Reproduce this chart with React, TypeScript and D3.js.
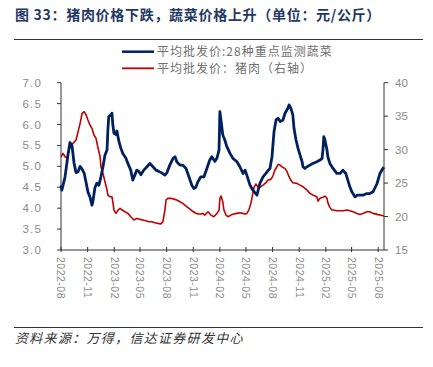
import React, { useEffect, useRef } from 'react';
import * as d3 from 'd3';

// 平均批发价:28种重点监测蔬菜 (左轴, 元/公斤)
const vegDates = [
  '2022-08-01', '2022-08-04', '2022-08-15', '2022-08-25', '2022-09-01', '2022-09-08', '2022-09-15', '2022-09-22',
  '2022-09-29', '2022-10-06', '2022-10-13', '2022-10-20', '2022-10-27', '2022-11-02', '2022-11-09', '2022-11-16',
  '2022-11-19', '2022-11-26', '2022-12-03', '2022-12-10', '2022-12-17', '2022-12-24', '2022-12-31', '2023-01-07',
  '2023-01-10', '2023-01-13', '2023-01-20', '2023-01-24', '2023-01-27', '2023-01-31', '2023-02-07', '2023-02-10',
  '2023-02-17', '2023-02-24', '2023-03-03', '2023-03-13', '2023-03-20', '2023-03-30', '2023-04-06', '2023-04-13',
  '2023-04-20', '2023-04-27', '2023-05-04', '2023-05-14', '2023-05-25', '2023-06-04', '2023-06-15', '2023-06-25',
  '2023-07-05', '2023-07-16', '2023-07-26', '2023-08-02', '2023-08-12', '2023-08-23', '2023-08-30', '2023-09-05',
  '2023-09-16', '2023-09-26', '2023-10-07', '2023-10-17', '2023-10-27', '2023-11-03', '2023-11-10', '2023-11-17',
  '2023-11-27', '2023-12-08', '2023-12-18', '2023-12-28', '2024-01-04', '2024-01-15', '2024-01-22', '2024-01-29',
  '2024-02-01', '2024-02-11', '2024-02-18', '2024-02-25', '2024-03-07', '2024-03-17', '2024-03-31', '2024-04-10',
  '2024-04-21', '2024-04-28', '2024-05-04', '2024-05-15', '2024-05-25', '2024-06-08', '2024-06-18', '2024-06-29',
  '2024-07-13', '2024-07-23', '2024-07-30', '2024-08-06', '2024-08-13', '2024-08-20', '2024-08-27', '2024-09-06',
  '2024-09-13', '2024-09-23', '2024-09-27', '2024-10-03', '2024-10-10', '2024-10-14', '2024-10-21', '2024-10-28',
  '2024-11-04', '2024-11-11', '2024-11-14', '2024-11-21', '2024-11-28', '2024-12-08', '2024-12-18', '2025-01-01',
  '2025-01-12', '2025-01-19', '2025-01-22', '2025-01-25', '2025-01-29', '2025-02-05', '2025-02-08', '2025-02-15',
  '2025-02-26', '2025-03-11', '2025-03-22', '2025-04-01', '2025-04-11', '2025-04-18', '2025-04-25', '2025-05-02',
  '2025-05-13', '2025-05-20', '2025-05-30', '2025-06-09', '2025-06-23', '2025-07-03', '2025-07-14', '2025-07-28',
  '2025-08-07', '2025-08-17', '2025-08-21',
];
const vegPrices = [
  4.55, 4.43, 4.75, 5.27, 5.57, 5.5, 5.08, 4.85,
  4.87, 5.0, 4.93, 4.84, 4.6, 4.39, 4.27, 4.07,
  4.15, 4.48, 4.6, 4.55, 4.75, 4.99, 5.27, 5.39,
  5.87, 6.19, 6.23, 6.27, 6.0, 5.79, 5.76, 5.85,
  5.6, 5.43, 5.3, 5.2, 5.07, 4.91, 4.67, 4.79,
  4.91, 4.88, 4.8, 4.91, 4.99, 5.07, 4.99, 4.91,
  4.88, 4.84, 4.79, 4.85, 5.03, 5.19, 5.23, 5.11,
  5.03, 5.03, 4.95, 4.75, 4.55, 4.47, 4.5, 4.63,
  4.75, 4.75, 4.95, 5.15, 5.23, 5.12, 5.2, 5.39,
  6.31, 5.75, 5.63, 5.47, 5.31, 5.19, 5.11, 4.99,
  4.83, 4.91, 4.79, 4.55, 4.43, 4.31, 4.59, 4.75,
  4.87, 4.95, 5.23, 5.83, 6.11, 6.15, 6.07, 6.11,
  6.27, 6.39, 6.47, 6.39, 6.23, 5.91, 5.63, 5.43,
  5.27, 5.11, 4.99, 4.95, 4.99, 5.03, 5.07, 5.11,
  5.15, 5.19, 5.39, 5.71, 5.63, 5.39, 5.23, 5.07,
  4.95, 4.83, 4.83, 4.91, 4.83, 4.67, 4.51, 4.39,
  4.27, 4.31, 4.31, 4.31, 4.35, 4.35, 4.39, 4.59,
  4.83, 4.95, 4.98,
];

// 平均批发价：猪肉 (右轴, 元/公斤)
const porkDates = [
  '2022-08-01', '2022-08-08', '2022-08-15', '2022-08-22', '2022-08-29', '2022-09-04', '2022-09-11', '2022-09-22',
  '2022-09-29', '2022-10-06', '2022-10-13', '2022-10-20', '2022-10-27', '2022-11-02', '2022-11-09', '2022-11-16',
  '2022-11-23', '2022-11-30', '2022-12-06', '2022-12-14', '2022-12-17', '2022-12-24', '2022-12-31', '2023-01-07',
  '2023-01-10', '2023-01-17', '2023-01-24', '2023-01-27', '2023-01-31', '2023-02-07', '2023-02-14', '2023-02-21',
  '2023-02-28', '2023-03-10', '2023-03-20', '2023-03-30', '2023-04-10', '2023-04-20', '2023-05-01', '2023-05-11',
  '2023-05-21', '2023-06-01', '2023-06-11', '2023-06-21', '2023-07-02', '2023-07-12', '2023-07-19', '2023-07-26',
  '2023-07-30', '2023-08-05', '2023-08-16', '2023-08-26', '2023-09-05', '2023-09-16', '2023-09-26', '2023-10-07',
  '2023-10-17', '2023-10-27', '2023-11-07', '2023-11-17', '2023-11-27', '2023-12-04', '2023-12-11', '2023-12-22',
  '2024-01-01', '2024-01-11', '2024-01-22', '2024-01-29', '2024-02-01', '2024-02-05', '2024-02-11', '2024-02-15',
  '2024-02-22', '2024-02-29', '2024-03-10', '2024-03-20', '2024-03-31', '2024-04-10', '2024-04-21', '2024-04-28',
  '2024-05-04', '2024-05-11', '2024-05-18', '2024-05-25', '2024-05-29', '2024-06-04', '2024-06-11', '2024-06-18',
  '2024-06-29', '2024-07-09', '2024-07-16', '2024-07-26', '2024-08-02', '2024-08-09', '2024-08-16', '2024-08-20',
  '2024-08-27', '2024-09-02', '2024-09-06', '2024-09-13', '2024-09-20', '2024-09-27', '2024-10-03', '2024-10-10',
  '2024-10-24', '2024-11-04', '2024-11-14', '2024-11-28', '2024-12-08', '2024-12-18', '2025-01-01', '2025-01-05',
  '2025-01-12', '2025-01-22', '2025-01-29', '2025-02-05', '2025-02-08', '2025-02-15', '2025-02-22', '2025-02-26',
  '2025-03-11', '2025-03-22', '2025-04-01', '2025-04-15', '2025-04-25', '2025-05-06', '2025-05-20', '2025-05-30',
  '2025-06-09', '2025-06-23', '2025-07-03', '2025-07-14', '2025-07-28', '2025-08-07', '2025-08-21',
];
const porkPrices = [
  28.94, 29.44, 28.94, 28.7, 29.94, 30.69, 30.94, 31.43,
  32.68, 33.93, 35.43, 35.67, 35.17, 34.42, 33.68, 33.18,
  32.18, 31.69, 30.43, 28.94, 27.44, 26.45, 25.2, 23.96,
  23.21, 22.96, 22.96, 22.2, 20.97, 20.47, 20.97, 21.22,
  20.97, 20.72, 20.47, 19.97, 19.48, 19.72, 19.58, 19.48,
  19.38, 19.23, 19.23, 19.08, 18.98, 18.9, 19.23, 20.97,
  22.47, 22.72, 22.72, 22.6, 22.47, 22.2, 21.97, 21.57,
  21.22, 20.87, 20.57, 20.37, 20.37, 20.47, 20.22, 20.72,
  20.22, 19.97, 20.47, 20.97, 22.72, 23.06, 22.2, 20.97,
  20.22, 19.97, 20.22, 20.37, 20.47, 20.57, 20.47, 20.37,
  20.47, 20.97, 21.97, 23.46, 24.36, 24.86, 24.46, 24.36,
  24.7, 25.06, 25.45, 25.55, 26.05, 26.95, 27.44, 27.79,
  27.69, 27.44, 27.34, 27.2, 26.7, 25.95, 25.45, 25.06,
  24.96, 24.7, 24.46, 23.96, 23.46, 23.21, 22.96, 22.3,
  22.72, 22.87, 23.06, 22.72, 22.07, 21.37, 20.97, 20.97,
  20.87, 20.87, 20.87, 20.97, 20.87, 20.72, 20.47, 20.32,
  20.47, 20.72, 20.72, 20.47, 20.32, 20.22, 20.07,
];

const xTickLabels = [
  '2022-08', '2022-11', '2023-02', '2023-05', '2023-08', '2023-11', '2024-02',
  '2024-05', '2024-08', '2024-11', '2025-02', '2025-05', '2025-08',
];
const leftTicks = [3.0, 3.5, 4.0, 4.5, 5.0, 5.5, 6.0, 6.5, 7.0];
const rightTicks = [15, 20, 25, 30, 35, 40];
const seriesNames = ['平均批发价:28种重点监测蔬菜', '平均批发价：猪肉（右轴）'];

const NAVY = '#002060';
const RED = '#C00000';
const GRAY = '#8a8a8a';
const CJK = '"Noto Sans CJK SC", "Noto Sans", sans-serif';
const NUM = '"Liberation Sans", Arial, sans-serif';

const App: React.FC = () => {
  const svgRef = useRef<SVGSVGElement>(null);

  useEffect(() => {
    if (!svgRef.current) return;
    const width = 433;
    const height = 367;
    const plot = { left: 61, right: 384, top: 82.7, bottom: 250 };

    const svg = d3.select(svgRef.current);
    svg.selectAll('*').remove();

    const parse = d3.timeParse('%Y-%m-%d');
    const parseMonth = d3.timeParse('%Y-%m');
    const veg = vegDates.map((d, i) => ({ date: parse(d)!, value: vegPrices[i] }));
    const pork = porkDates.map((d, i) => ({ date: parse(d)!, value: porkPrices[i] }));

    const x = d3.scaleTime()
      .domain([parse(vegDates[0])!, parse(vegDates[vegDates.length - 1])!])
      .range([plot.left, plot.right]);
    const yLeft = d3.scaleLinear().domain([3, 7]).range([plot.bottom, plot.top]);
    const yRight = d3.scaleLinear().domain([15, 40]).range([plot.bottom, plot.top]);

    svg.append('rect').attr('width', width).attr('height', height).attr('fill', '#fff');

    // title + rules
    svg.append('text')
      .attr('x', 15)
      .attr('y', 20)
      .attr('fill', '#1F3864')
      .style('font-family', CJK)
      .style('font-size', '14px')
      .style('font-weight', 'bold')
      .style('letter-spacing', '0.7px')
      .text('图 33：猪肉价格下跌，蔬菜价格上升（单位：元/公斤）');

    svg.append('line').attr('x1', 14).attr('x2', 423).attr('y1', 39.5).attr('y2', 39.5)
      .attr('stroke', '#333').attr('stroke-width', 1);
    svg.append('line').attr('x1', 14).attr('x2', 423).attr('y1', 327.5).attr('y2', 327.5)
      .attr('stroke', '#333').attr('stroke-width', 1);

    // legend
    const legendColors = [NAVY, RED];
    seriesNames.forEach((name, i) => {
      const ly = 51.7 + i * 16.6;
      svg.append('line')
        .attr('x1', 122).attr('x2', 154).attr('y1', ly).attr('y2', ly)
        .attr('stroke', legendColors[i]).attr('stroke-width', i === 0 ? 2.5 : 1.8);
      svg.append('text')
        .attr('x', 157).attr('y', ly).attr('dy', '0.35em')
        .attr('fill', '#707070')
        .style('font-family', CJK)
        .style('font-size', '12px')
        .style('letter-spacing', '1px')
        .text(name);
    });

    // x axis
    const xAxis = svg.append('g');
    xAxis.append('line')
      .attr('x1', plot.left).attr('x2', plot.right).attr('y1', plot.bottom).attr('y2', plot.bottom)
      .attr('stroke', '#333');
    xTickLabels.forEach(lbl => {
      const tx = x(parseMonth(lbl)!);
      xAxis.append('line')
        .attr('x1', tx).attr('x2', tx).attr('y1', plot.bottom - 3).attr('y2', plot.bottom + 2)
        .attr('stroke', '#333');
      xAxis.append('text')
        .attr('transform', `translate(${tx},${plot.bottom + 7}) rotate(90)`)
        .attr('dy', '0.35em')
        .attr('fill', GRAY)
        .style('font-family', NUM)
        .style('font-size', '10.5px')
        .style('letter-spacing', '0.5px')
        .text(lbl);
    });

    // left axis
    const la = svg.append('g');
    la.append('line')
      .attr('x1', plot.left).attr('x2', plot.left).attr('y1', plot.top).attr('y2', plot.bottom)
      .attr('stroke', '#333');
    leftTicks.forEach(t => {
      la.append('line')
        .attr('x1', plot.left - 4).attr('x2', plot.left).attr('y1', yLeft(t)).attr('y2', yLeft(t))
        .attr('stroke', '#333');
      la.append('text')
        .attr('x', plot.left - 19).attr('y', yLeft(t)).attr('dy', '0.35em')
        .attr('text-anchor', 'end')
        .attr('fill', GRAY)
        .style('font-family', NUM)
        .style('font-size', '11.5px')
        .style('letter-spacing', '1.2px')
        .text(d3.format('.1f')(t));
    });

    // right axis
    const ra = svg.append('g');
    ra.append('line')
      .attr('x1', plot.right).attr('x2', plot.right).attr('y1', plot.top).attr('y2', plot.bottom)
      .attr('stroke', '#333');
    rightTicks.forEach(t => {
      ra.append('line')
        .attr('x1', plot.right).attr('x2', plot.right + 4).attr('y1', yRight(t)).attr('y2', yRight(t))
        .attr('stroke', '#333');
      ra.append('text')
        .attr('x', plot.right + 11).attr('y', yRight(t)).attr('dy', '0.35em')
        .attr('fill', GRAY)
        .style('font-family', NUM)
        .style('font-size', '11.5px')
        .text(String(t));
    });

    // lines
    const vegLine = d3.line<{ date: Date; value: number }>()
      .x(d => x(d.date))
      .y(d => yLeft(d.value));
    const porkLine = d3.line<{ date: Date; value: number }>()
      .x(d => x(d.date))
      .y(d => yRight(d.value));

    svg.append('path')
      .datum(pork)
      .attr('d', porkLine)
      .attr('fill', 'none')
      .attr('stroke', RED)
      .attr('stroke-width', 1.6)
      .attr('stroke-linejoin', 'round');

    svg.append('path')
      .datum(veg)
      .attr('d', vegLine)
      .attr('fill', 'none')
      .attr('stroke', NAVY)
      .attr('stroke-width', 2.8)
      .attr('stroke-linejoin', 'round');

    // source
    svg.append('text')
      .attr('x', 15).attr('y', 338).attr('dy', '0.35em')
      .attr('fill', '#333')
      .style('font-family', CJK)
      .style('font-size', '13px')
      .style('font-style', 'italic')
      .style('letter-spacing', '1.3px')
      .text('资料来源：万得，信达证券研发中心');
  }, []);

  return (
    <svg
      ref={svgRef}
      width={433}
      height={367}
      viewBox="0 0 433 367"
      style={{ position: 'absolute', left: 0, top: 0, display: 'block' }}
    />
  );
};

export default App;
